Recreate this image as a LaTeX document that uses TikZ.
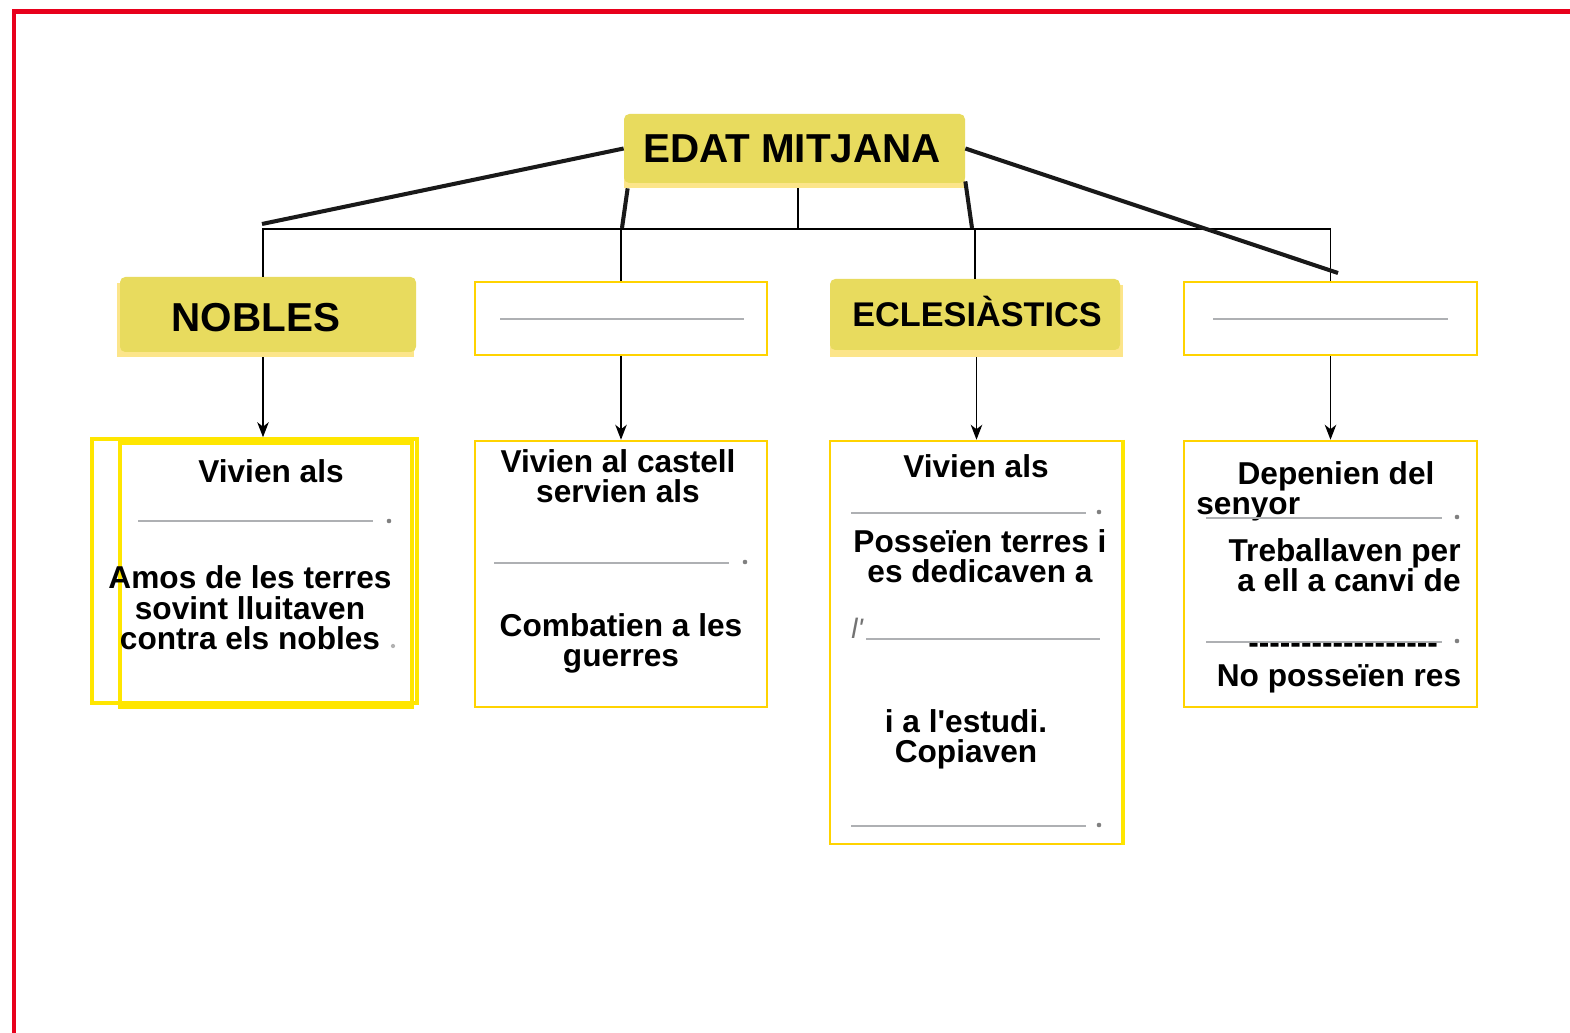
\documentclass[tikz,border=0pt]{standalone}
\usepackage{fontspec}
\setmainfont{Liberation Sans}
\newfontfamily\lletra{Liberation Sans}
\usetikzlibrary{arrows.meta, fit}

\definecolor{groc}{HTML}{E8DB5E}
\definecolor{grocclar}{HTML}{FCE58A}
\definecolor{vora}{HTML}{FFD300}
\definecolor{vorab}{HTML}{FFE600}
\definecolor{gris}{HTML}{AEB0B3}
\definecolor{vermell}{HTML}{E8001C}

\tikzset{
  titol/.style={fill=groc, rounded corners=3pt, inner sep=0pt},
  ombra/.style={fill=grocclar, inner sep=0pt},
  caixa/.style={draw=vora, line width=1.4pt, inner sep=0pt},
  buit/.style={draw=gris, line width=1.1pt},
  txt/.style={font=\lletra\bfseries\fontsize{18}{17.6}\selectfont, align=center, inner sep=0pt, anchor=base},
  gran/.style={font=\lletra\bfseries\fontsize{23}{26}\selectfont, inner sep=0pt, anchor=base},
  gruix/.style={line width=2.3pt, draw=black!90},
  fil/.style={line width=1.1pt},
  fletxa/.style={line width=1.1pt, -{Stealth[length=8.5pt,width=6.5pt,inset=2.5pt]}}
}

\begin{document}
\begin{tikzpicture}[x=0.02cm, y=-0.02cm]
        \fill[white] (0,0) rectangle (1570,1033);
        \useasboundingbox (0,0) rectangle (1570,1033);
        \draw[vermell, line width=2.3pt] (1570,11.5) -- (13.7,11.5) -- (13.7,1033);

        % Edat mitjana
        \node[ombra, fit={(624,120) (965,188)}] (edat-sh) {};
        \node[titol, fit={(624,114) (965,183)}] (edat) {};
        \node[gran] (edat-t) at (792,163) {EDAT MITJANA};

        % Grups
        \node[ombra, fit={(117,283) (414,357)}] (nobles-sh) {};
        \node[titol, fit={(120,277) (416,352)}] (nobles) {};
        \node[gran] (nobles-t) at (256,332) {NOBLES};
        \node[caixa, fit={(475,282) (767,355)}] (slot2) {};
        \draw[buit] (500,319) -- (744,319);
        \node[ombra, fit={(830,285) (1123,357)}] (ecles-sh) {};
        \node[titol, fit={(830,279) (1120,350)}] (ecles) {};
        \node[gran, font=\lletra\bfseries\fontsize{19.5}{22}\selectfont] (ecles-t) at (977,327) {ECLESIÀSTICS};
        \node[caixa, fit={(1184,282) (1477,355)}] (slot4) {};
        \draw[buit] (1213,319) -- (1448,319);

        \coordinate (c1) at (263,229);
        \coordinate (mig) at (798,229);
        \coordinate (tl) at (262,224);
        \coordinate (tr) at (1338,273);
        \coordinate (bl) at (622,228);
        \coordinate (br) at (972,228);

        \draw[fil] (c1 |- nobles.north) -- (c1) -- (slot4.north |- c1) -- (slot4.north);
        \draw[fil] (slot2.north) -- (slot2.north |- c1);
        \draw[fil] (ecles.north) -- (ecles.north |- c1);
        \draw[fil] (mig |- edat-sh.south) -- (mig);
        \draw[gruix] (edat.west) -- (tl);
        \draw[gruix] (edat.east) -- (tr);
        \draw[gruix] ([xshift=0.08cm]edat-sh.south west) -- (bl);
        \draw[gruix] ([yshift=0.14cm]edat-sh.south east) -- (br);

        % Caixes de baix
        \node[caixa, draw=vorab, line width=2pt, fit={(92,439) (417,703)}] (vida1) {};
        \draw[vorab, line width=2pt] (120,443) rectangle (412,707);
        \node[caixa, fit={(475,441) (767,707)}] (vida2) {};
        \node[caixa, fit={(830,441) (1122,844)}] (vida3) {};
        \draw[vorab, line width=2.2pt] (vida3.north east) -- (vida3.south east);
        \node[caixa, fit={(1184,441) (1477,707)}] (vida4) {};

        \draw[fletxa] (c1 |- nobles-sh.south) -- (c1 |- vida1.north);
        \draw[fletxa] (slot2.south) -- (vida2.north);
        \draw[fletxa] (ecles-sh.south) -- (ecles-sh.south |- vida3.north);
        \draw[fletxa] (slot4.south) -- (vida4.north);

        % Nobles
        \node[txt] (n1) at (271,483) {Vivien als};
        \draw[buit] (138,521) -- (373,521);
        \fill[gray] (389,521) circle (1.3pt);
        \node[txt] (n2) at (250,650) {Amos de les terres\\sovint lluitaven\\contra els nobles};
        \fill[gray!60] (393,646) circle (1.2pt);

        % Cavallers
        \node[txt] (k1) at (618,503) {Vivien al castell\\servien als};
        \draw[buit] (494,563) -- (729,563);
        \fill[gray] (745,562) circle (1.3pt);
        \node[txt] (k2) at (621,667) {Combatien a les\\guerres};

        % Eclesiastics
        \node[txt] (e1) at (976,478) {Vivien als};
        \draw[buit] (851,513) -- (1086,513);
        \fill[gray] (1099,512) circle (1.3pt);
        \node[txt] (e2) at (980,583) {Posseïen terres i\\es dedicaven a};
        \node[font=\lletra\itshape\fontsize{16}{17}\selectfont, text=black!55, anchor=base west, inner sep=0pt] (e3) at (851,639) {l'};
        \draw[buit] (866,639) -- (1100,639);
        \node[txt] (e4) at (966,763) {i a l'estudi.\\Copiaven};
        \draw[buit] (851,826) -- (1086,826);
        \fill[gray] (1099,825) circle (1.3pt);

        % Pagesos
        \node[txt] (p1) at (1336,485) {Depenien del};
        \node[txt, anchor=base west] (p2) at (1196,515) {senyor};
        \draw[buit] (1206,518) -- (1442,518);
        \fill[gray] (1457,517) circle (1.3pt);
        \node[txt, align=right, anchor=base east] (p3) at (1461,592) {Treballaven per\\a ell a canvi de};
        \draw[buit] (1206,642) -- (1442,642);
        \node[txt, anchor=base west] (p4) at (1248,654) {-{}-{}-{}-{}-{}-{}-{}-{}-{}-{}-{}-{}-{}-{}-{}-{}-{}-};
        \fill[gray] (1457,641) circle (1.3pt);
        \node[txt] (p5) at (1339,687) {No posseïen res};
\end{tikzpicture}
\end{document}
